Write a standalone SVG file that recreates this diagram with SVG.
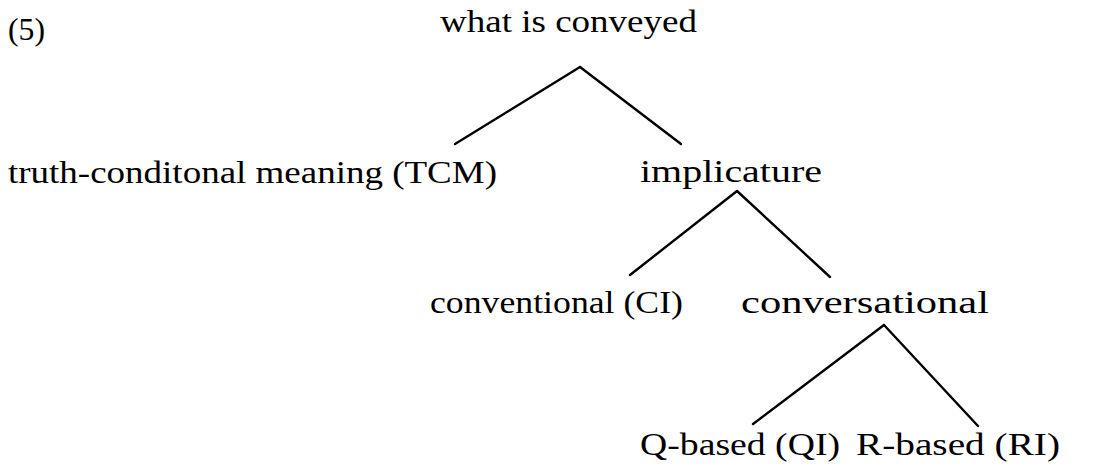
<svg xmlns="http://www.w3.org/2000/svg" width="1116" height="466" viewBox="0 0 1116 466">
<style>
text{font-family:"Liberation Serif","Times New Roman",serif;font-size:32px;fill:#000}
.e{stroke:#000;stroke-width:2.4;fill:none;stroke-linecap:round}
</style>
<rect width="1116" height="466" fill="#fff"/>
<text x="8" y="40" textLength="37" lengthAdjust="spacingAndGlyphs">(5)</text>
<g id="n-root"><text x="440" y="32" textLength="257" lengthAdjust="spacingAndGlyphs">what is conveyed</text></g>
<g id="n-tcm"><text x="8" y="183" textLength="489" lengthAdjust="spacingAndGlyphs">truth-conditonal meaning (TCM)</text></g>
<g id="n-impl"><text x="640" y="182" textLength="182" lengthAdjust="spacingAndGlyphs">implicature</text></g>
<g id="n-ci"><text x="430" y="313" textLength="253" lengthAdjust="spacingAndGlyphs">conventional (CI)</text></g>
<g id="n-conv"><text x="741" y="313" textLength="248" lengthAdjust="spacingAndGlyphs">conversational</text></g>
<g id="n-qi"><text x="640" y="455" textLength="200" lengthAdjust="spacingAndGlyphs">Q-based (QI)</text></g>
<g id="n-ri"><text x="856" y="455" textLength="204" lengthAdjust="spacingAndGlyphs">R-based (RI)</text></g>
<g id="connectors">
<line class="e" x1="580" y1="67" x2="455" y2="144"/>
<line class="e" x1="580" y1="67" x2="681" y2="144"/>
<line class="e" x1="737" y1="191" x2="630" y2="275"/>
<line class="e" x1="737" y1="191" x2="830" y2="277"/>
<line class="e" x1="884" y1="325" x2="753" y2="424"/>
<line class="e" x1="884" y1="325" x2="978" y2="426"/>
</g>
</svg>
